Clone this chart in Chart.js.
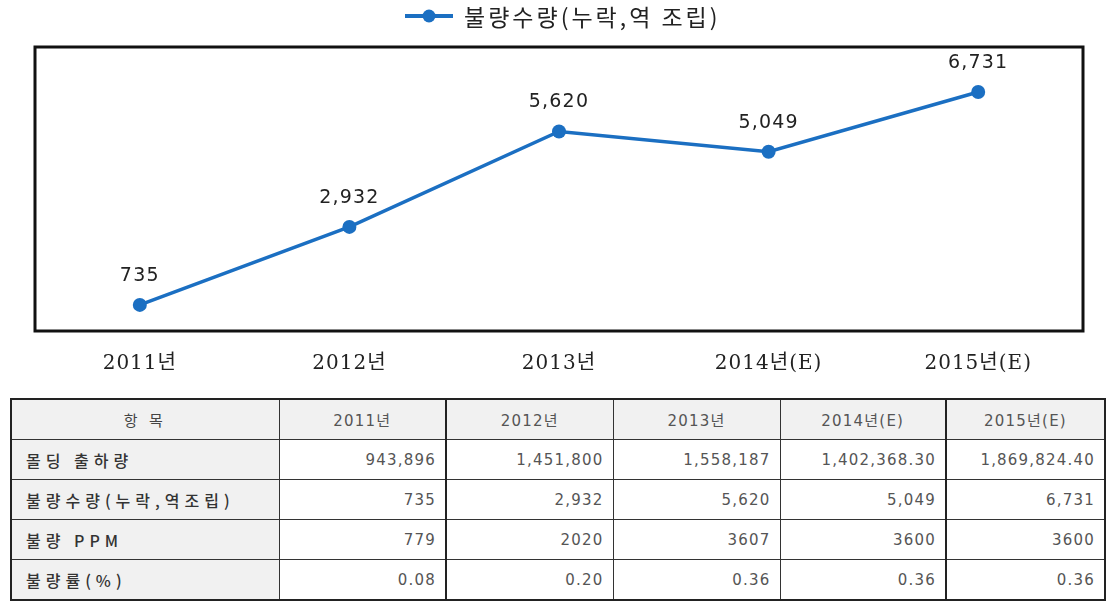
<!DOCTYPE html>
<html>
<head>
<meta charset="utf-8">
<script src="https://cdn.jsdelivr.net/npm/chart.js@4"></script>
<style>
  body { margin: 0; background: #fff; width: 1116px; height: 614px; overflow: hidden; position: relative; }
  #chartBox { position: absolute; left: 0; top: 0; width: 1116px; height: 398px; }
  table {
    position: absolute; left: 10px; top: 398px; width: 1094px; table-layout: fixed;
    border-collapse: collapse; border: 2px solid #222;
    font-family: "DejaVu Sans", "Noto Sans CJK KR", sans-serif; font-size: 15px; color: #555;
    letter-spacing: 1.2px;
  }
  td, th { border: 1px solid #333; height: 39px; padding: 0 9px; font-weight: normal; }
  th { background: #f1f1f1; text-align: center; }
  td { text-align: right; }
  td.item {
    background: #f1f1f1; text-align: left; color: #333; padding-left: 14px;
    font-family: "Noto Sans CJK KR", sans-serif; font-size: 16px; font-weight: 500; letter-spacing: 5px;
  }
  th.first { font-family: "Noto Sans CJK KR", sans-serif; letter-spacing: 4px; color: #444; }
  .thick { border-left: 2px solid #222; }
</style>
</head>
<body>
<div id="chartBox"><canvas id="chart"></canvas></div>
<table id="tbl"></table>
<script>
const years = ["2011년", "2012년", "2013년", "2014년(E)", "2015년(E)"];
const seriesName = "불량수량(누락,역 조립)";
const defects = [735, 2932, 5620, 5049, 6731];

// table rows
const rowNames = ["몰딩 출하량", "불량수량(누락,역조립)", "불량 PPM", "불량률(%)"];
const shipments = ["943,896", "1,451,800", "1,558,187", "1,402,368.30", "1,869,824.40"];
const defectText = ["735", "2,932", "5,620", "5,049", "6,731"];
const ppm = ["779", "2020", "3607", "3600", "3600"];
const rate = ["0.08", "0.20", "0.36", "0.36", "0.36"];

const blue = "#1b6fc2";

// legend drawn by hand: line with dot, then the label
const lineLegend = {
  id: "lineLegend",
  afterDraw(chart) {
    const { ctx } = chart;
    const ds = chart.data.datasets[0];
    const y = 16;
    ctx.save();
    ctx.strokeStyle = ds.borderColor;
    ctx.lineWidth = 4;
    ctx.beginPath(); ctx.moveTo(405, y); ctx.lineTo(453, y); ctx.stroke();
    ctx.fillStyle = ds.borderColor;
    ctx.beginPath(); ctx.arc(429, y, 6.5, 0, Math.PI * 2); ctx.fill();
    ctx.letterSpacing = "3px";
    ctx.font = "23px 'Noto Sans CJK KR', sans-serif";
    ctx.fillStyle = "#222";
    ctx.textAlign = "left";
    ctx.textBaseline = "middle";
    ctx.fillText(ds.label, 464, y + 1);
    ctx.restore();
  }
};

const frame = {
  id: "frame",
  beforeDraw(chart) { chart.ctx.letterSpacing = "1px"; },
  afterDraw(chart) {
    const { ctx, chartArea: a } = chart;
    ctx.save();
    ctx.strokeStyle = "#111";
    ctx.lineWidth = 3;
    ctx.strokeRect(a.left, a.top, a.right - a.left, a.bottom - a.top);
    ctx.restore();
  }
};

const valueLabels = {
  id: "valueLabels",
  afterDatasetsDraw(chart) {
    const { ctx } = chart;
    const meta = chart.getDatasetMeta(0);
    ctx.save();
    ctx.letterSpacing = "1.2px";
    ctx.font = "19px 'DejaVu Sans', sans-serif";
    ctx.fillStyle = "#222";
    ctx.textAlign = "center";
    ctx.textBaseline = "middle";
    meta.data.forEach((pt, i) => {
      ctx.fillText(defects[i].toLocaleString("en-US"), pt.x, pt.y - 29);
    });
    ctx.restore();
  }
};

new Chart(document.getElementById("chart"), {
  type: "line",
  data: {
    labels: years,
    datasets: [{
      label: seriesName,
      data: defects,
      borderColor: blue,
      backgroundColor: blue,
      borderWidth: 3.5,
      pointRadius: 7,
      pointHoverRadius: 7,
      pointBackgroundColor: blue,
      pointBorderWidth: 0,
      tension: 0
    }]
  },
  options: {
    responsive: true,
    maintainAspectRatio: false,
    animation: false,
    layout: { padding: { left: 35, right: 33, top: 47, bottom: 1 } },
    plugins: {
      legend: { display: false },
      tooltip: { enabled: false }
    },
    scales: {
      x: {
        offset: true,
        grid: { display: false, drawTicks: false },
        border: { display: false },
        ticks: {
          color: "#222",
          padding: 21,
          font: { size: 20, family: "'DejaVu Serif', 'Noto Sans CJK KR', serif" }
        }
      },
      y: { display: false, min: 0, max: 8000 }
    }
  },
  plugins: [frame, valueLabels, lineLegend]
});

// table
const tbl = document.getElementById("tbl");
const widths = [268, 167, 167, 167, 166, 159];
let html = "<colgroup>" + widths.map(w => `<col style="width:${w}px">`).join("") + "</colgroup>";
html += '<tr><th class="first">항 목</th>';
years.forEach((y, i) => { html += `<th${i === 1 || i === 4 ? ' class="thick"' : ''}>${y}</th>`; });
html += "</tr>";
[shipments, defectText, ppm, rate].forEach((row, r) => {
  html += `<tr><td class="item">${rowNames[r]}</td>`;
  row.forEach((v, i) => { html += `<td${i === 1 || i === 4 ? ' class="thick"' : ''}>${v}</td>`; });
  html += "</tr>";
});
tbl.innerHTML = html;
</script>
</body>
</html>
